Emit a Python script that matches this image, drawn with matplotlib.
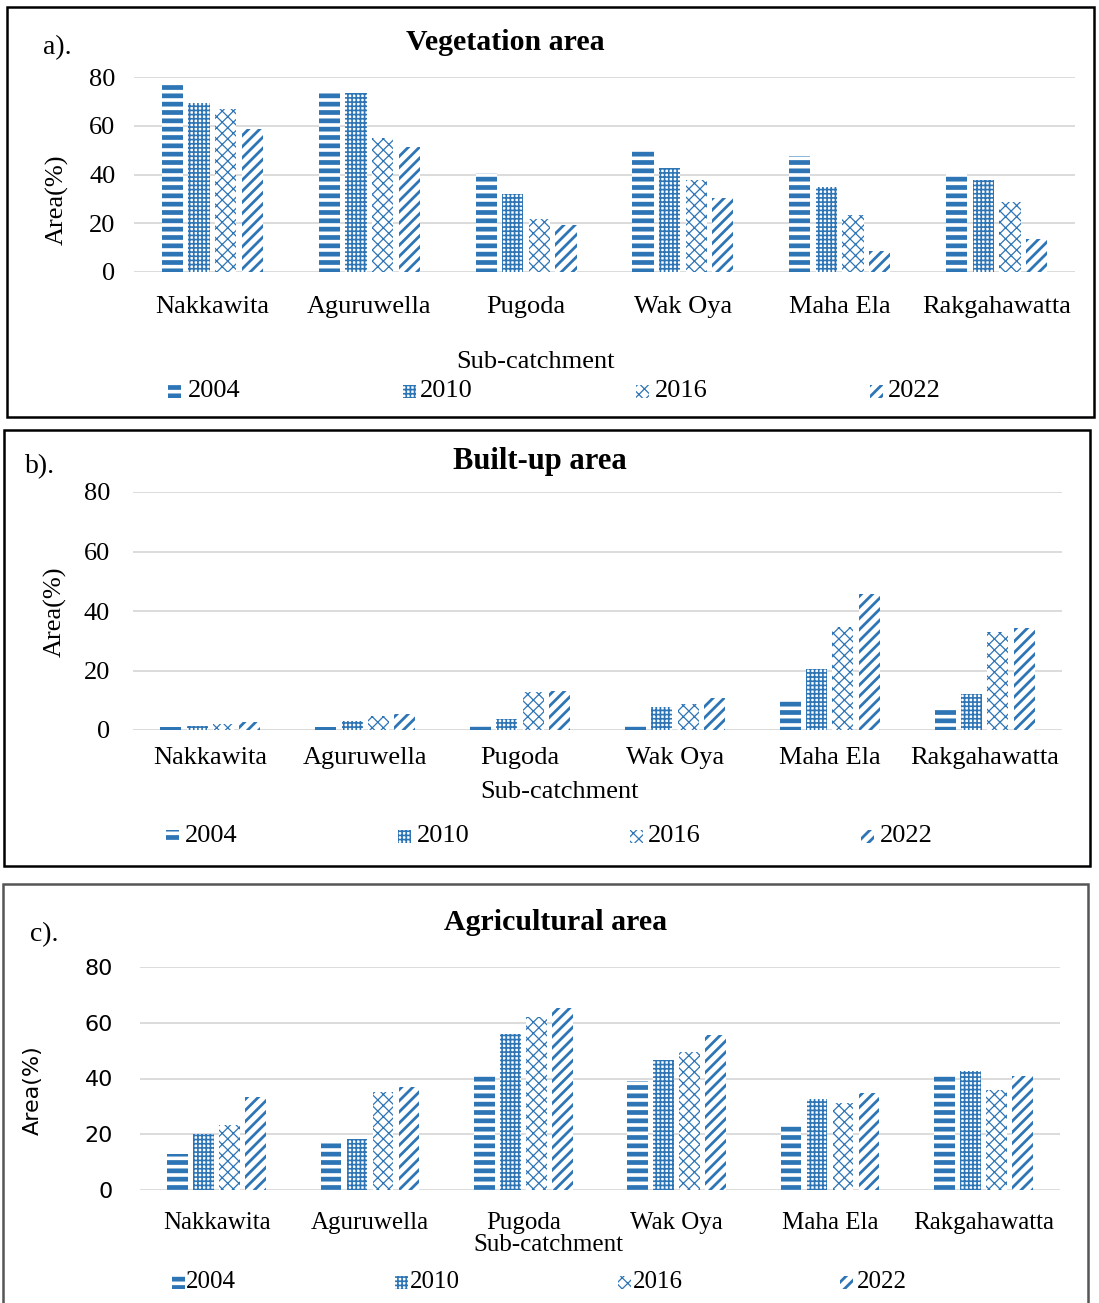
import matplotlib.pyplot as plt
import numpy as np
from matplotlib.patches import Rectangle

plt.rcParams["font.family"] = ["Liberation Serif", "DejaVu Serif"]

sub_catchments = ["Nakkawita", "Aguruwella", "Pugoda", "Wak Oya", "Maha Ela", "Rakgahawatta"]
years = ["2004", "2010", "2016", "2022"]

# area (%) per year, one list per year
vegetation = {
    "2004": [77.0, 73.9, 40.6, 50.2, 47.6, 40.2],
    "2010": [69.5, 73.3, 31.8, 42.7, 35.0, 37.8],
    "2016": [67.0, 54.8, 21.7, 37.8, 23.5, 28.6],
    "2022": [58.6, 51.4, 19.4, 30.3, 8.7, 13.4],
}
built_up = {
    "2004": [1.0, 1.0, 1.7, 2.0, 10.4, 7.3],
    "2010": [1.2, 2.9, 3.7, 7.7, 20.4, 12.0],
    "2016": [2.0, 4.7, 12.8, 8.9, 34.7, 33.0],
    "2022": [2.8, 5.4, 13.2, 10.9, 45.6, 34.3],
}
agricultural = {
    "2004": [12.8, 17.8, 41.6, 39.0, 23.4, 41.6],
    "2010": [20.0, 18.4, 56.0, 46.6, 32.8, 42.7],
    "2016": [23.4, 35.0, 62.2, 49.6, 31.3, 35.8],
    "2022": [33.4, 36.9, 65.4, 55.5, 34.8, 40.8],
}
yticks = [0, 20, 40, 60, 80]

BLUE = "#2E75B6"
hatches = {"2004": "--", "2010": "++++", "2016": "xxx", "2022": "///"}
hatch_lw = {"2004": 3.4, "2010": 1.2, "2016": 0.9, "2022": 2.0}

W, H = 1099, 1303
fig = plt.figure(figsize=(W / 100, H / 100), dpi=100)


def fx(px):
    return px / W


def fy(py):
    return 1 - py / H


def set_hlw(artist, year):
    if hasattr(artist, "set_hatch_linewidth"):
        artist.set_hatch_linewidth(hatch_lw[year])


def hatched_bar(ax, x, h, year, width):
    with plt.rc_context({"hatch.linewidth": hatch_lw[year]}):
        bars = ax.bar(x, h, width, facecolor="white", edgecolor=BLUE,
                      linewidth=0, hatch=hatches[year], zorder=2)
    for b in bars:
        set_hlw(b, year)
    return bars


def panel(data, box, axpos, title, tag, ylab, xlab, legend, cat_pad, tick_pad,
          cat_size=19, tick_font=None, tick_size=19, ylab_font=None, ylab_size=19,
          box_color="black"):
    x0, y0, x1, y1 = box
    fig.patches.append(Rectangle((fx(x0), fy(y1)), fx(x1) - fx(x0), fy(y0) - fy(y1),
                                 transform=fig.transFigure, fill=False,
                                 edgecolor=box_color, linewidth=1.8))
    l, r, t, b = axpos
    ax = fig.add_axes([fx(l), fy(b), fx(r) - fx(l), fy(t) - fy(b)])
    x = np.arange(len(sub_catchments))
    step, width = 0.17, 0.135
    for i, yr in enumerate(years):
        hatched_bar(ax, x + (i - 1.5) * step, data[yr], yr, width)
    ax.set_xlim(-0.5, len(sub_catchments) - 0.5)
    ax.set_ylim(0, 80)
    ax.set_yticks(yticks)
    ax.set_xticks(x)
    ax.set_xticklabels(sub_catchments, fontsize=cat_size)
    tick_kw = {"fontsize": tick_size}
    if tick_font:
        tick_kw["family"] = tick_font
    ax.set_yticklabels([str(v) for v in yticks], **tick_kw)
    ax.tick_params(axis="x", length=0, pad=cat_pad)
    ax.tick_params(axis="y", length=0, pad=tick_pad)
    for s in ax.spines.values():
        s.set_visible(False)
    ax.yaxis.grid(True, color="#D9D9D9", linewidth=1.3)
    ax.set_axisbelow(True)

    fig.text(fx(title[0]), fy(title[1]), title[2], ha="center", va="center",
             fontsize=title[3], fontweight="bold")
    fig.text(fx(tag[0]), fy(tag[1]), tag[2], ha="left", va="center", fontsize=20)
    ykw = {"fontsize": ylab_size}
    if ylab_font:
        ykw["family"] = ylab_font
    fig.text(fx(ylab[0]), fy(ylab[1]), "Area(%)", ha="center", va="center",
             rotation=90, **ykw)
    fig.text(fx(xlab[0]), fy(xlab[1]), "Sub-catchment", ha="center", va="center",
             fontsize=cat_size)

    ly, marks, texts = legend
    for yr, mx, tx in zip(years, marks, texts):
        with plt.rc_context({"hatch.linewidth": hatch_lw[yr]}):
            p = Rectangle((fx(mx), fy(ly + 7)), fx(13), 13 / H,
                          transform=fig.transFigure, facecolor="white",
                          edgecolor=BLUE, linewidth=0, hatch=hatches[yr])
        set_hlw(p, yr)
        fig.patches.append(p)
        fig.text(fx(tx), fy(ly), yr, ha="left", va="center", fontsize=cat_size)
    return ax


panel(vegetation, (7, 7, 1094, 417), (134, 1075, 77, 272),
      (505, 42, "Vegetation area", 21.5), (43, 48, "a)."),
      (57, 200), (535, 362),
      (391, [168, 403, 636, 870], [188, 420, 655, 888]),
      cat_pad=17, tick_pad=13.5)

panel(built_up, (4, 430, 1090, 866), (133, 1062, 492, 730),
      (540, 462, "Built-up area", 22), (25, 467, "b)."),
      (55, 612), (560, 792),
      (836, [166, 398, 630, 861], [185, 417, 648, 880]),
      cat_pad=12, tick_pad=16.5)

panel(agricultural, (3, 884, 1088, 1310), (140, 1060, 967, 1190),
      (556, 922, "Agricultural area", 21.5), (30, 935, "c)."),
      (33, 1090), (548, 1245),
      (1282, [172, 395, 618, 840], [186, 410, 633, 857]),
      cat_pad=16, tick_pad=19.5, cat_size=18,
      tick_font=["Liberation Sans Narrow", "DejaVu Sans"], tick_size=16,
      ylab_font=["Liberation Sans Narrow", "DejaVu Sans"], ylab_size=16,
      box_color="#555555")

fig.savefig("out.png", dpi=100)
